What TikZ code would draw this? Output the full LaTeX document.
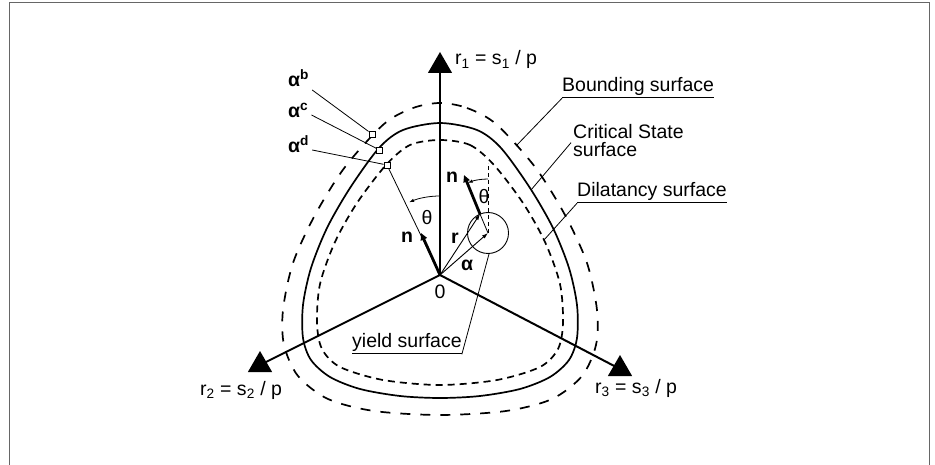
\documentclass[tikz,border=0pt]{standalone}
\usepackage{fontspec}
\setmainfont{Liberation Sans}
\usetikzlibrary{arrows.meta,positioning,shapes.geometric}

\begin{document}
\begin{tikzpicture}[
  x=1pt, y=-1pt,
  lbl/.style={inner sep=0pt, font=\fontsize{19.5}{20}\selectfont},
  vlbl/.style={inner sep=0pt, font=\fontsize{19.5}{20}\selectfont\bfseries},
  axisline/.style={line width=2pt},
  axistip/.style={regular polygon, regular polygon sides=3, fill=black,
    inner sep=0pt, minimum size=28pt},
  cssurf/.style={line width=1.7pt},
  bsurf/.style={line width=1.7pt, dash pattern=on 10pt off 10pt},
  dsurf/.style={line width=1.7pt, dash pattern=on 7pt off 5pt},
  leader/.style={line width=0.8pt},
  nvec/.style={line width=2.8pt, -{Triangle[length=7pt,width=6.5pt]}},
  thinvec/.style={line width=0.9pt, -{Latex[length=6pt,width=4pt]}},
  anglearc/.style={line width=0.8pt, -{Latex[length=5pt,width=3.5pt]}},
  apoint/.style={draw, fill=white, line width=0.9pt, minimum size=6pt, inner sep=0pt},
]
\useasboundingbox (0,0) rectangle (935,465);
\draw[black!60, line width=1pt] (9,465) -- (9,3) -- (929,3) -- (929,465);

\coordinate (O) at (440,275);

% surfaces
\draw[bsurf, shift={(O)}] plot[smooth cycle] coordinates {
  (0,-172) (27,-167) (56,-151) (95,-108) (125,-60) (147,-12) (157,35) (156,70)
  (142,101) (112,124) (66,136) (0,140) (-66,136) (-112,124) (-142,101) (-156,70)
  (-157,35) (-147,-12) (-125,-60) (-95,-108) (-56,-151) (-27,-167)};
\draw[cssurf, shift={(O)}] plot[smooth cycle] coordinates {
  (0,-152) (37,-145) (61,-127) (90,-87) (113,-47) (129,-7) (137,30) (137,63)
  (129,85) (110,102) (80,114) (40,121) (0,123) (-40,121) (-80,114) (-110,102)
  (-129,85) (-137,63) (-137,30) (-129,-7) (-113,-47) (-90,-87) (-61,-127) (-37,-145)};
\draw[dsurf, shift={(O)}] plot[smooth cycle] coordinates {
  (0,-135) (30,-130) (54,-110) (83,-72) (105,-33) (120,9) (123,48) (118,74)
  (100,92) (57,105) (0,110) (-57,105) (-100,92) (-118,74) (-123,48) (-120,9)
  (-105,-33) (-83,-72) (-54,-110) (-30,-130)};

% axes
\node[axistip] (t1) at (440,66) {};
\node[axistip] (t2) at (260,365) {};
\node[axistip] (t3) at (620,369) {};
\draw[axisline] (O) -- (t1.center);
\draw[axisline] (O) -- (t2.center);
\draw[axisline] (O) -- (t3.center);
\node[lbl, anchor=base west] (r1lbl) at (455,65) {r\textsubscript{1} = s\textsubscript{1} / p};
\node[lbl, anchor=base west] (r2lbl) at (200,395) {r\textsubscript{2} = s\textsubscript{2} / p};
\node[lbl, anchor=base west] (r3lbl) at (595,393) {r\textsubscript{3} = s\textsubscript{3} / p};
\node[lbl, below=10pt of O] (zero) {0};

% image points and normal
\node[apoint] (pb) at (372,134) {};
\node[apoint] (pc) at (379.5,150) {};
\node[apoint] (pd) at (387,165) {};
\draw[leader] (O) -- (pd);
\draw[nvec] (O) -- (421,233);
\node[vlbl] (nleft) at (407,237) {n};
\draw[anglearc] (O) ++(-90:79) arc[start angle=-90, end angle=-113, radius=79];
\node[lbl] (thleft) at (427,218) {θ};

\node[vlbl, anchor=base west] (ab) at (288,87) {α\textsuperscript{b}};
\node[vlbl, anchor=base west] (ac) at (288,118) {α\textsuperscript{c}};
\node[vlbl, anchor=base west] (ad) at (288,153) {α\textsuperscript{d}};
\draw[leader] ([shift={(3,3)}]ab.base east) -- (pb);
\draw[leader] ([shift={(3,-3)}]ac.base east) -- (pc);
\draw[leader] ([shift={(3,-3)}]ad.base east) -- (pd);

% yield surface
\coordinate (R) at (480,214);
\coordinate (C) at (488,233);
\node[draw, circle, line width=0.9pt, minimum size=41pt, inner sep=0pt] (ys) at (C) {};
\draw[leader, dash pattern=on 4pt off 3pt] (C) -- (488,163);
\draw[thinvec] (O) -- (R);
\draw[thinvec] (O) -- (C);
\draw[leader] (R) -- (C);
\draw[nvec] (R) -- (464,175);
\node[vlbl] (nright) at (452,177) {n};
\draw[anglearc] (C) ++(-90:54) arc[start angle=-90, end angle=-112, radius=54];
\node[lbl] (thright) at (484,197) {θ};
\node[vlbl] (rlbl) at (455,238) {r};
\node[vlbl] (alpha) at (467,265) {α};

% surface labels
\node[lbl, anchor=base west] (bnd) at (562,92) {\underline{Bounding surface}};
\draw[leader] (bnd.south west) -- (516,146);
\node[lbl, anchor=base west] (crit) at (573,139) {Critical State};
\node[lbl, anchor=base west] (critb) at (573,157) {surface};
\draw[leader] ([xshift=-2pt]critb.north west) -- (531,190);
\node[lbl, anchor=base west] (dil) at (577,197) {\underline{Dilatancy surface}};
\draw[leader] (dil.south west) -- (544,240);
\node[lbl, anchor=base west] (yld) at (352,348) {\underline{yield surface}};
\draw[leader] (yld.south east) -- (489,254);

\end{tikzpicture}
\end{document}
